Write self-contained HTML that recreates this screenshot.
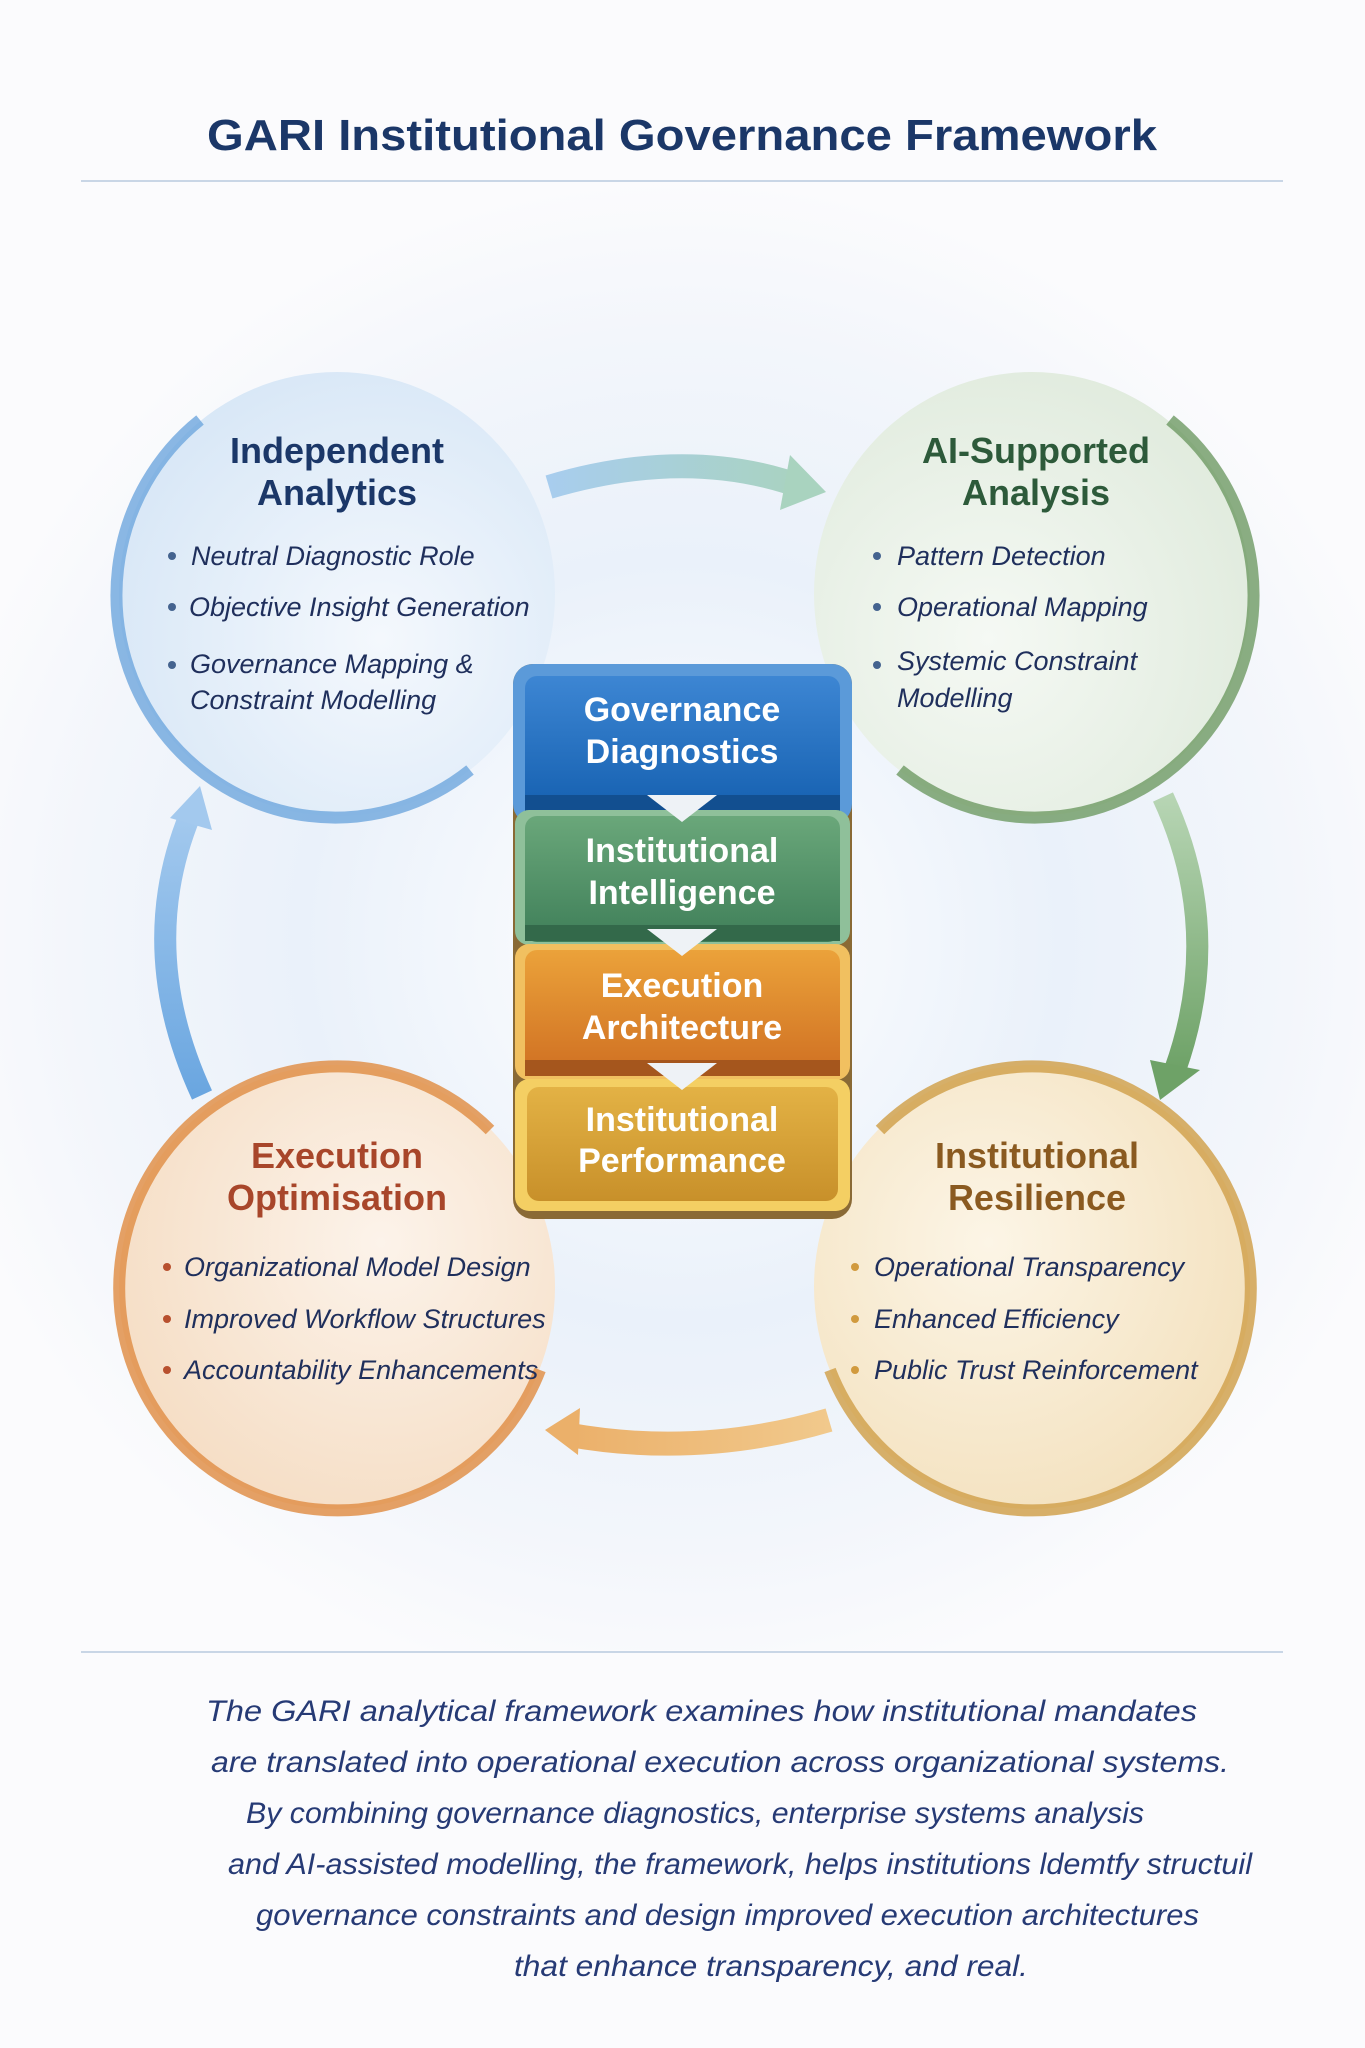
<!DOCTYPE html>
<html><head><meta charset="utf-8"><style>
html,body{margin:0;padding:0;background:#fbfbfd;}
svg{display:block;}
.h{font-family:"Liberation Sans",sans-serif;font-weight:bold;}
.b{font-family:"Liberation Sans",sans-serif;font-style:italic;font-size:27px;fill:#1f2f5c;}
.w{font-family:"Liberation Sans",sans-serif;font-weight:bold;font-size:34px;fill:#fff;}
.p{font-family:"Liberation Sans",sans-serif;font-style:italic;font-size:30px;fill:#263a75;}
</style></head><body>
<svg width="1365" height="2048" viewBox="0 0 1365 2048" xmlns="http://www.w3.org/2000/svg">
<defs>
<radialGradient id="bg" cx="682" cy="940" r="760" gradientUnits="userSpaceOnUse">
<stop offset="0" stop-color="#ffffff"/><stop offset="0.5" stop-color="#eaf1fa"/><stop offset="0.8" stop-color="#f3f6fb"/><stop offset="1" stop-color="#fbfbfd"/></radialGradient>
<radialGradient id="cb" cx="0.6" cy="0.6" r="0.7"><stop offset="0" stop-color="#f4f8fd"/><stop offset="1" stop-color="#d6e6f6"/></radialGradient>
<radialGradient id="cg" cx="0.4" cy="0.6" r="0.7"><stop offset="0" stop-color="#f5f9f4"/><stop offset="1" stop-color="#dfeadc"/></radialGradient>
<radialGradient id="co" cx="0.6" cy="0.4" r="0.7"><stop offset="0" stop-color="#fcf3ea"/><stop offset="1" stop-color="#f5dcc2"/></radialGradient>
<radialGradient id="cy" cx="0.4" cy="0.4" r="0.7"><stop offset="0" stop-color="#fcf5e6"/><stop offset="1" stop-color="#f3e0bc"/></radialGradient>
<linearGradient id="gBlue" x1="0" y1="0" x2="0" y2="1"><stop offset="0" stop-color="#3d86d3"/><stop offset="1" stop-color="#1560b0"/></linearGradient>
<linearGradient id="gGreen" x1="0" y1="0" x2="0" y2="1"><stop offset="0" stop-color="#6aa77a"/><stop offset="1" stop-color="#3f7f59"/></linearGradient>
<linearGradient id="gOr" x1="0" y1="0" x2="0" y2="1"><stop offset="0" stop-color="#eba23a"/><stop offset="1" stop-color="#cf6f22"/></linearGradient>
<linearGradient id="gYe" x1="0" y1="0" x2="0" y2="1"><stop offset="0" stop-color="#e3b245"/><stop offset="1" stop-color="#c8902a"/></linearGradient>
<linearGradient id="aTop" x1="0" y1="0" x2="1" y2="0"><stop offset="0" stop-color="#a8cdee"/><stop offset="1" stop-color="#a9d3bf"/></linearGradient>
<linearGradient id="aR" x1="0" y1="0" x2="0" y2="1"><stop offset="0" stop-color="#b7d5b4"/><stop offset="1" stop-color="#6ea267"/></linearGradient>
<linearGradient id="aB" x1="1" y1="0" x2="0" y2="0"><stop offset="0" stop-color="#f1c98c"/><stop offset="1" stop-color="#ebb06a"/></linearGradient>
<linearGradient id="aL" x1="0" y1="1" x2="0" y2="0"><stop offset="0" stop-color="#6aa6e0"/><stop offset="1" stop-color="#a3c9ee"/></linearGradient>
</defs>
<rect width="1365" height="2048" fill="#fbfbfd"/>
<rect x="0" y="180" width="1365" height="1470" fill="url(#bg)"/>

<text x="682" y="150" text-anchor="middle" class="h" font-size="44" fill="#1b3768" textLength="950" lengthAdjust="spacingAndGlyphs">GARI Institutional Governance Framework</text>
<line x1="81" y1="181" x2="1283" y2="181" stroke="#c9d6e6" stroke-width="2"/>

<!-- circles -->
<ellipse cx="337" cy="594" rx="218" ry="222" fill="url(#cb)"/>
<path d="M200,420 A218,222 0 0 0 470,770" fill="none" stroke="#6ea6dd" stroke-width="12" opacity="0.8"/>
<ellipse cx="1032" cy="594" rx="218" ry="222" fill="url(#cg)"/>
<path d="M1170,420 A218,222 0 0 1 900,770" fill="none" stroke="#6e9a63" stroke-width="12" opacity="0.8"/>
<ellipse cx="337" cy="1287" rx="218" ry="222" fill="url(#co)"/>
<path d="M490,1130 A218,222 0 1 0 540,1370" fill="none" stroke="#e0914a" stroke-width="12" opacity="0.85"/>
<ellipse cx="1032" cy="1287" rx="218" ry="222" fill="url(#cy)"/>
<path d="M880,1130 A218,222 0 1 1 830,1370" fill="none" stroke="#d1a24f" stroke-width="12" opacity="0.85"/>

<!-- arrows -->
<path d="M549,487 Q690,445 805,488" fill="none" stroke="url(#aTop)" stroke-width="24"/>
<polygon points="790,455 826,492 780,510" fill="#a9d3bf"/>
<path d="M1163,797 Q1225,930 1175,1070" fill="none" stroke="url(#aR)" stroke-width="22"/>
<polygon points="1150,1060 1200,1070 1160,1100" fill="#6ea267"/>
<path d="M829,1420 Q700,1458 570,1435" fill="none" stroke="url(#aB)" stroke-width="24"/>
<polygon points="545,1430 580,1408 578,1455" fill="#ebb06a"/>
<path d="M202,1095 Q135,950 190,815" fill="none" stroke="url(#aL)" stroke-width="22"/>
<polygon points="200,786 212,830 170,818" fill="#a3c9ee"/>

<!-- circle text -->
<g class="h" font-size="36" text-anchor="middle">
<text x="337" y="463" fill="#1b3768">Independent</text><text x="337" y="505" fill="#1b3768">Analytics</text>
<text x="1036" y="463" fill="#2d5a3a">AI-Supported</text><text x="1036" y="505" fill="#2d5a3a">Analysis</text>
<text x="337" y="1168" fill="#a8462a">Execution</text><text x="337" y="1210" fill="#a8462a">Optimisation</text>
<text x="1037" y="1168" fill="#8a5a20">Institutional</text><text x="1037" y="1210" fill="#8a5a20">Resilience</text>
</g>
<g fill="#44638f"><circle cx="172" cy="556" r="4"/><circle cx="172" cy="607" r="4"/><circle cx="172" cy="665" r="4"/></g>
<text class="b" x="191" y="565">Neutral Diagnostic Role</text>
<text class="b" x="189" y="616">Objective Insight Generation</text>
<text class="b" x="190" y="673">Governance Mapping &amp;</text>
<text class="b" x="190" y="709">Constraint Modelling</text>
<g fill="#44638f"><circle cx="877" cy="556" r="4"/><circle cx="877" cy="607" r="4"/><circle cx="877" cy="665" r="4"/></g>
<text class="b" x="897" y="565">Pattern Detection</text>
<text class="b" x="897" y="616">Operational Mapping</text>
<text class="b" x="897" y="670">Systemic Constraint</text>
<text class="b" x="897" y="707">Modelling</text>
<g fill="#b8502e"><circle cx="167" cy="1267" r="4"/><circle cx="167" cy="1319" r="4"/><circle cx="167" cy="1370" r="4"/></g>
<text class="b" x="184" y="1276">Organizational Model Design</text>
<text class="b" x="184" y="1328">Improved Workflow Structures</text>
<text class="b" x="184" y="1379">Accountability Enhancements</text>
<g fill="#d19a3e"><circle cx="855" cy="1267" r="4"/><circle cx="855" cy="1319" r="4"/><circle cx="855" cy="1370" r="4"/></g>
<text class="b" x="874" y="1276">Operational Transparency</text>
<text class="b" x="874" y="1328">Enhanced Efficiency</text>
<text class="b" x="874" y="1379">Public Trust Reinforcement</text>

<!-- central stack -->
<rect x="513" y="664" width="339" height="555" rx="20" fill="#8a6a35"/>
<rect x="513" y="664" width="339" height="160" rx="20" fill="#5b9ad9"/>
<rect x="525" y="676" width="315" height="136" rx="12" fill="url(#gBlue)"/>
<rect x="525" y="795" width="315" height="16" fill="#124f90"/>
<rect x="515" y="810" width="335" height="135" rx="14" fill="#8fc09a"/>
<rect x="525" y="816" width="315" height="126" rx="12" fill="url(#gGreen)"/>
<rect x="525" y="925" width="315" height="16" fill="#33694a"/>
<rect x="515" y="944" width="335" height="136" rx="14" fill="#f1c060"/>
<rect x="525" y="950" width="315" height="126" rx="12" fill="url(#gOr)"/>
<rect x="525" y="1060" width="315" height="16" fill="#a5561d"/>
<rect x="515" y="1079" width="335" height="132" rx="14" fill="#f4cf63"/>
<rect x="527" y="1087" width="311" height="114" rx="12" fill="url(#gYe)"/>
<polygon points="647,795 717,795 682,822" fill="#eef2f6"/>
<polygon points="647,929 717,929 682,956" fill="#eef2f6"/>
<polygon points="647,1063 717,1063 682,1090" fill="#eef2f6"/>
<g class="w" text-anchor="middle">
<text x="682" y="721">Governance</text><text x="682" y="763">Diagnostics</text>
<text x="682" y="862">Institutional</text><text x="682" y="904">Intelligence</text>
<text x="682" y="997">Execution</text><text x="682" y="1039">Architecture</text>
<text x="682" y="1131">Institutional</text><text x="682" y="1172">Performance</text>
</g>

<line x1="81" y1="1652" x2="1283" y2="1652" stroke="#c9d6e6" stroke-width="2"/>
<text class="p" x="206" y="1721" textLength="991" lengthAdjust="spacingAndGlyphs">The GARI analytical framework examines how institutional mandates</text>
<text class="p" x="211" y="1772" textLength="1018" lengthAdjust="spacingAndGlyphs">are translated into operational execution across organizational systems.</text>
<text class="p" x="246" y="1823" textLength="898" lengthAdjust="spacingAndGlyphs">By combining governance diagnostics, enterprise systems analysis</text>
<text class="p" x="228" y="1874" textLength="1024" lengthAdjust="spacingAndGlyphs">and AI-assisted modelling, the framework, helps institutions ldemtfy structuil</text>
<text class="p" x="256" y="1925" textLength="943" lengthAdjust="spacingAndGlyphs">governance constraints and design improved execution architectures</text>
<text class="p" x="514" y="1976" textLength="514" lengthAdjust="spacingAndGlyphs">that enhance transparency, and real.</text>
</svg>
</body></html>
